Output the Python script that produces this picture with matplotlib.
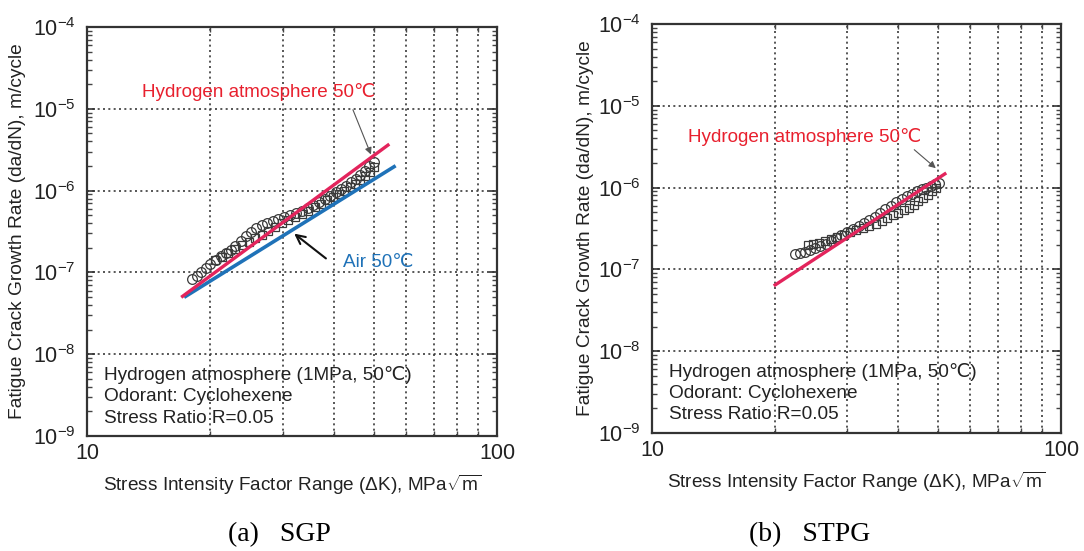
import numpy as np
import matplotlib
matplotlib.use("Agg")
import matplotlib.pyplot as plt
from matplotlib import ticker

plt.rcParams['font.family'] = ['Liberation Sans', 'DejaVu Sans']
plt.rcParams['mathtext.fontset'] = 'custom'
plt.rcParams['mathtext.rm'] = 'Liberation Sans'
plt.rcParams['mathtext.it'] = 'Liberation Sans:italic'

# ---- data ----
# (a) SGP
sgp_line_dk = [17.1, 54.2]
sgp_h2_line = [5.1e-8, 3.6e-6]
sgp_air_dk = [17.4, 56.1]
sgp_air_line = [5.1e-8, 1.96e-6]

sgp_circ_dk = [18.0, 18.5, 19.0, 19.5, 20.0, 20.6, 21.2, 21.8, 22.4, 23.0,
               23.7, 24.4, 25.1, 25.9, 26.7, 27.5, 28.4, 29.3, 30.3, 31.3,
               32.3, 33.4, 34.5, 35.6, 36.8, 38.0, 39.2, 40.4, 41.6, 42.8,
               44.0, 45.2, 46.4, 47.6, 48.8, 50.0]
sgp_circ_v = [8.2e-8, 9.0e-8, 1.0e-7, 1.12e-7, 1.25e-7, 1.42e-7, 1.6e-7, 1.75e-7, 1.9e-7, 2.1e-7,
              2.4e-7, 2.75e-7, 3.1e-7, 3.45e-7, 3.75e-7, 4.0e-7, 4.2e-7, 4.45e-7, 4.7e-7, 5.0e-7,
              5.3e-7, 5.7e-7, 6.1e-7, 6.6e-7, 7.2e-7, 7.9e-7, 8.7e-7, 9.6e-7, 1.05e-6, 1.15e-6,
              1.27e-6, 1.4e-6, 1.55e-6, 1.75e-6, 1.98e-6, 2.25e-6]
sgp_sq_dk = [20.5, 21.3, 22.1, 23.0, 23.9, 24.8, 25.7, 26.7, 27.7, 28.8,
             29.9, 31.0, 32.2, 33.4, 34.6, 35.9, 37.2, 38.5, 39.8, 41.1,
             42.4, 43.7, 45.0, 46.3, 47.6, 48.9, 50.2]
sgp_sq_v = [1.4e-7, 1.55e-7, 1.75e-7, 1.95e-7, 2.15e-7, 2.35e-7, 2.6e-7, 2.9e-7, 3.2e-7, 3.6e-7,
            4.0e-7, 4.35e-7, 4.75e-7, 5.2e-7, 5.7e-7, 6.3e-7, 6.9e-7, 7.6e-7, 8.3e-7, 9.1e-7,
            1.0e-6, 1.1e-6, 1.22e-6, 1.35e-6, 1.5e-6, 1.68e-6, 1.95e-6]

# (b) STPG
stpg_line_dk = [20.0, 52.0]
stpg_h2_line = [6.45e-8, 1.47e-6]

stpg_circ_dk = [22.4, 23.0, 23.6, 24.3, 25.0, 25.8, 26.6, 27.4, 28.2, 29.0,
                30.0, 31.0, 32.0, 33.0, 34.0, 35.0, 36.0, 37.2, 38.4, 39.6,
                40.8, 42.0, 43.2, 44.4, 45.6, 46.8, 48.0, 49.2, 50.4]
stpg_circ_v = [1.55e-7, 1.6e-7, 1.65e-7, 1.72e-7, 1.8e-7, 1.92e-7, 2.05e-7, 2.2e-7, 2.4e-7, 2.6e-7,
               2.85e-7, 3.1e-7, 3.4e-7, 3.7e-7, 4.0e-7, 4.4e-7, 4.9e-7, 5.5e-7, 6.0e-7, 6.6e-7,
               7.2e-7, 7.8e-7, 8.4e-7, 9.0e-7, 9.6e-7, 1.0e-6, 1.05e-6, 1.1e-6, 1.15e-6]
stpg_sq_dk = [24.0, 24.8, 25.6, 26.5, 27.4, 28.4, 29.4, 30.5, 31.6, 32.8,
              34.0, 35.2, 36.4, 37.6, 38.8, 40.0, 41.2, 42.4, 43.6, 44.8,
              46.0, 47.2, 48.4, 49.6]
stpg_sq_v = [2.0e-7, 2.05e-7, 2.1e-7, 2.2e-7, 2.35e-7, 2.5e-7, 2.65e-7, 2.85e-7, 3.0e-7, 3.2e-7,
             3.4e-7, 3.6e-7, 3.95e-7, 4.3e-7, 4.6e-7, 4.95e-7, 5.3e-7, 5.7e-7, 6.2e-7, 6.8e-7,
             7.5e-7, 8.2e-7, 9.0e-7, 1.0e-6]

conditions = ["Hydrogen atmosphere (1MPa, 50\u2103)", "Odorant: Cyclohexene", "Stress Ratio R=0.05"]
captions = ["(a)   SGP", "(b)   STPG"]

RED_LINE = '#e3245c'
RED_TXT = '#e8202e'
BLUE = '#1f72b8'
MK = '#3a3a3a'

fig = plt.figure(figsize=(10.84, 5.51), dpi=100)
ax1 = fig.add_axes([0.0803, 0.2087, 0.3782, 0.7423])
ax2 = fig.add_axes([0.6015, 0.2142, 0.3773, 0.7423])


def style_axes(ax, ylab_x):
    ax.set_xscale('log')
    ax.set_yscale('log')
    ax.set_xlim(10, 100)
    ax.set_ylim(1e-9, 1e-4)
    ax.set_xticks([10, 100], labels=['10', '100'])
    ax.xaxis.set_minor_locator(ticker.LogLocator(base=10, subs=np.arange(2, 10)))
    ax.xaxis.set_minor_formatter(ticker.NullFormatter())
    ax.yaxis.set_major_locator(ticker.LogLocator(base=10, numticks=10))
    ax.yaxis.set_minor_locator(ticker.LogLocator(base=10, subs=np.arange(2, 10), numticks=10))
    ax.yaxis.set_minor_formatter(ticker.NullFormatter())
    ax.tick_params(which='major', direction='in', length=6, width=1.2, top=True, right=True,
                   labelsize=15.5, pad=5, colors='#333333', labelcolor='#222222')
    ax.tick_params(which='minor', direction='in', length=3.5, width=1.0, top=True, right=True,
                   colors='#444444')
    ax.tick_params(axis='y', which='major', pad=8)
    ax.grid(True, axis='x', which='both', linestyle=(0, (1.2, 2.0)), color='#3a3a3a', linewidth=1.2)
    ax.grid(True, axis='y', which='major', linestyle=(0, (1.2, 2.0)), color='#3a3a3a', linewidth=1.2)
    for s in ax.spines.values():
        s.set_linewidth(1.6)
        s.set_color('#333333')
    ax.set_xlabel(r'Stress Intensity Factor Range ($\Delta$K), MPa$\sqrt{\mathrm{m}}$',
                  fontsize=13.7, color='#222222')
    ax.xaxis.set_label_coords(0.5, -0.09)
    ax.set_ylabel('Fatigue Crack Growth Rate (da/dN), m/cycle', fontsize=13.8, color='#222222')
    ax.yaxis.set_label_coords(ylab_x, 0.5)
    for i, t in enumerate(conditions):
        ax.text(0.042, 0.15 - i * 0.053, t, transform=ax.transAxes, fontsize=13.7,
                ha='left', va='center', color='#222222')


style_axes(ax1, -0.15)
style_axes(ax2, -0.142)

# (a) SGP
ax1.plot(sgp_circ_dk, sgp_circ_v, 'o', mfc='none', mec=MK, ms=7, mew=0.9, zorder=3)
ax1.plot(sgp_sq_dk, sgp_sq_v, 's', mfc='none', mec=MK, ms=6, mew=0.9, zorder=3)
ax1.plot(sgp_air_dk, sgp_air_line, color=BLUE, lw=2.6, zorder=4)
ax1.plot(sgp_line_dk, sgp_h2_line, color=RED_LINE, lw=2.4, zorder=5)
ax1.text(0.134, 0.841, 'Hydrogen atmosphere 50\u2103', transform=ax1.transAxes,
         fontsize=13.6, color=RED_TXT, ha='left', va='center')
ax1.annotate('', xy=(0.695, 0.682), xytext=(0.646, 0.804), xycoords='axes fraction',
             arrowprops=dict(arrowstyle='-|>', color='#555555', lw=0.8, mutation_scale=10))
ax1.text(0.624, 0.423, 'Air 50\u2103', transform=ax1.transAxes,
         fontsize=13.6, color=BLUE, ha='left', va='center')
ax1.annotate('', xy=(0.5, 0.499), xytext=(0.588, 0.43), xycoords='axes fraction',
             arrowprops=dict(arrowstyle='->', color='#111111', lw=1.5, mutation_scale=16))

# (b) STPG
ax2.plot(stpg_circ_dk, stpg_circ_v, 'o', mfc='none', mec=MK, ms=7, mew=0.9, zorder=3)
ax2.plot(stpg_sq_dk, stpg_sq_v, 's', mfc='none', mec=MK, ms=6, mew=0.9, zorder=3)
ax2.plot(stpg_line_dk, stpg_h2_line, color=RED_LINE, lw=2.4, zorder=5)
ax2.text(0.088, 0.724, 'Hydrogen atmosphere 50\u2103', transform=ax2.transAxes,
         fontsize=13.6, color=RED_TXT, ha='left', va='center')
ax2.annotate('', xy=(0.699, 0.643), xytext=(0.636, 0.697), xycoords='axes fraction',
             arrowprops=dict(arrowstyle='-|>', color='#555555', lw=0.8, mutation_scale=10))

fig.text(0.258, 0.029, captions[0], family='Liberation Serif', fontsize=20, ha='center', va='center')
fig.text(0.747, 0.029, captions[1], family='Liberation Serif', fontsize=20, ha='center', va='center')

fig.savefig('out.png', dpi=100)
